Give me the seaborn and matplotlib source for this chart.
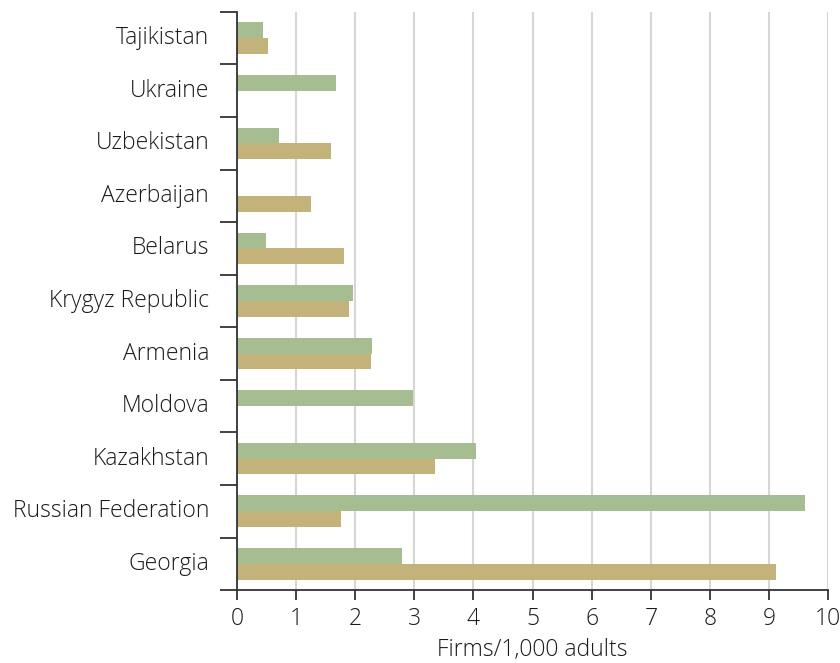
import numpy as np
import pandas as pd
import matplotlib
matplotlib.use("Agg")
import matplotlib.pyplot as plt
import seaborn as sns

# ── Data ──────────────────────────────────────────────────────
countries = ['Tajikistan', 'Ukraine', 'Uzbekistan', 'Azerbaijan', 'Belarus',
             'Krygyz Republic', 'Armenia', 'Moldova', 'Kazakhstan',
             'Russian Federation', 'Georgia']
series_green = [0.44, 1.67, 0.71, np.nan, 0.49, 1.96, 2.28, 2.98, 4.04, 9.61, 2.79]
series_tan   = [0.52, np.nan, 1.59, 1.25, 1.81, 1.89, 2.27, np.nan, 3.35, 1.76, 9.12]
series_names = ['Series 1', 'Series 2']
x_ticks = list(range(0, 11))

df = pd.DataFrame({
    'country': countries * 2,
    'value': series_green + series_tan,
    'series': [series_names[0]] * len(countries) + [series_names[1]] * len(countries),
})

sns.set_style('white')
plt.rcParams['font.family'] = ['Open Sans', 'DejaVu Sans']
text_col = '#1a1a1a'
fsize = 16.5

fig = plt.figure(figsize=(8.4, 6.63), dpi=100)
ax = fig.add_axes([0.282, 0.110, 0.704, 0.872])

sns.barplot(data=df, y='country', x='value', hue='series', orient='h',
            order=countries, hue_order=series_names,
            palette=['#a6bd92', '#c4b27b'], width=0.6, saturation=1,
            errorbar=None, legend=False, linewidth=0, ax=ax)

ax.set_xlim(0, 10)
ax.set_ylim(len(countries) - 0.5, -0.5)
ax.set_xticks(x_ticks)
ax.set_xticklabels([str(t) for t in x_ticks])
ax.grid(axis='x', color='#d6d6d6', linewidth=1.5)
ax.set_axisbelow(True)

# category separators as ticks on the y axis
ax.set_yticks(np.arange(-0.5, len(countries)), minor=True)
ax.tick_params(axis='y', which='major', length=0, pad=20, labelsize=fsize,
               labelcolor=text_col)
ax.tick_params(axis='y', which='minor', length=12, width=1.3, color='#333333',
               direction='out', left=True)
ax.tick_params(axis='x', which='major', length=7, width=1.3, color='#333333',
               direction='out', bottom=True, labelsize=fsize, labelcolor=text_col, pad=5)

for s in ['top', 'right']:
    ax.spines[s].set_visible(False)
for s in ['left', 'bottom']:
    ax.spines[s].set_color('#333333')
    ax.spines[s].set_linewidth(1.3)

ax.set_ylabel('')
ax.set_xlabel('Firms/1,000 adults', fontsize=fsize, color=text_col, labelpad=5)

for lab in ax.get_xticklabels():
    lab.set_fontweight('light')
for lab in ax.get_yticklabels():
    lab.set_fontweight('light')
    lab.set_va('center')
ax.xaxis.label.set_fontweight('light')

fig.savefig('out.png', dpi=100)
